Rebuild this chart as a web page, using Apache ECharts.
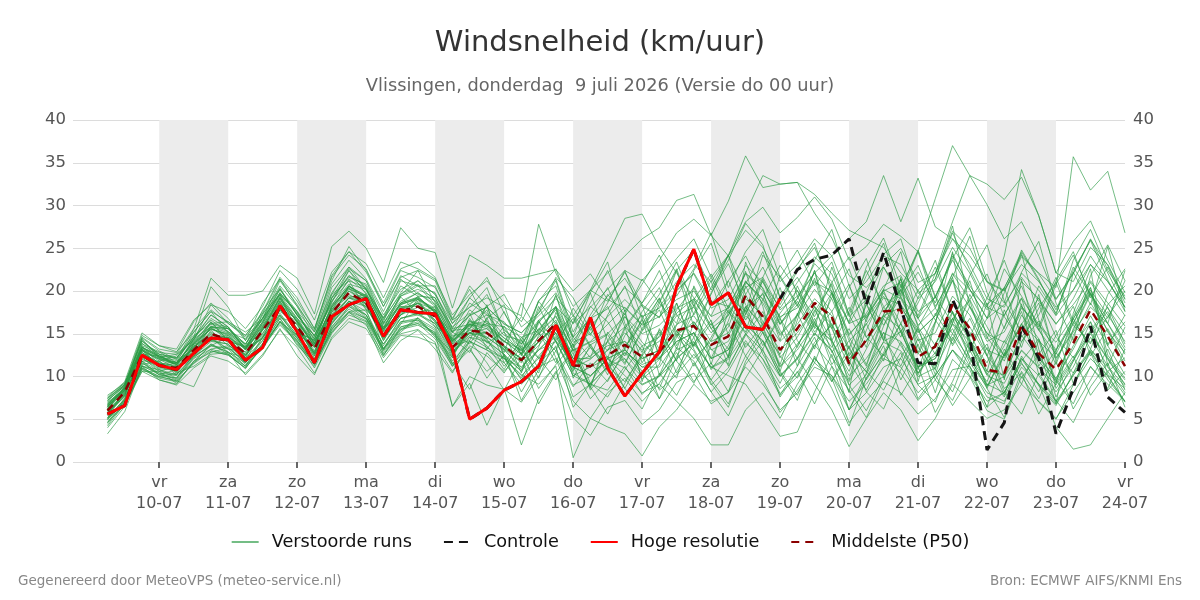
<!DOCTYPE html>
<html><head><meta charset="utf-8">
<script src="https://cdn.jsdelivr.net/npm/echarts@6/dist/echarts.min.js"></script>
<style>html,body{margin:0;padding:0;background:#fff}#c{width:1200px;height:600px}</style>
</head><body><div id="c"></div>
<script>
// hours since 9 July 2026 00:00 UTC, 6-hourly from 06:00
const hours = [];
for (let i = 0; i < 60; i++) hours.push(6 + 6 * i);
const dayTicks = [24,48,72,96,120,144,168,192,216,240,264,288,312,336,360];
const dayLabels = ['vr\n10-07','za\n11-07','zo\n12-07','ma\n13-07','di\n14-07','wo\n15-07','do\n16-07','vr\n17-07','za\n18-07','zo\n19-07','ma\n20-07','di\n21-07','wo\n22-07','do\n23-07','vr\n24-07'];
const shadedDays = [[24,48],[72,96],[120,144],[168,192],[216,240],[264,288],[312,336]];

const hoge = [5.6,6.6,12.5,11.3,10.8,12.7,14.5,14.3,11.9,13.4, 18.3,15.2,11.6,17.0,18.4,19.1,14.7,17.8,17.5,17.3, 13.3,5.0,6.3,8.4,9.4,11.2,16.0,11.3,16.9,11.0, 7.7,10.4,12.9,20.5,24.9,18.4,19.8,15.8,15.5,19.1];
const controle = [5.6,6.6,12.5,11.3,10.8,12.7,14.5,14.3,11.9,13.4, 18.3,15.2,11.6,17.0,18.4,19.1,14.7,17.8,17.5,17.3, 13.3,5.0,6.3,8.4,9.4,11.2,16.0,11.3,16.9,11.0, 7.7,10.4,12.9,20.5,24.9,18.4,19.8,15.8,15.5,19.1, 22.5,23.7,24.2,26.1,18.4,24.5,18.0,11.6,11.5,19.0, 14.5,1.4,4.6,15.9,12.2,3.3,8.6,15.9,7.6,5.8];
const p50 = [6.0,8.2,12.5,11.3,11.0,13.1,15.0,14.3,12.7,15.4, 18.2,15.8,13.2,17.4,19.8,18.6,14.7,17.6,18.2,17.0, 13.4,15.4,15.1,13.6,11.9,14.2,16.2,11.3,11.2,12.5, 13.7,12.3,12.9,15.4,15.9,13.7,14.7,19.5,17.0,13.1, 15.6,18.6,17.0,11.5,14.3,17.6,17.8,12.3,13.5,18.4, 15.6,10.8,10.4,16.0,12.7,10.8,13.9,17.8,14.7,11.2];

const run01 = [6.2,8.8,13.1,11.0,11.6,13.9,16.4,14.1,13.5,16.2, 19.6,15.1,14.3,18.8,21.2,17.9,15.6,19.3,17.4,18.2,12.6, 16.8,13.9,15.2,10.4,16.6,18.1,9.8,13.7,14.9,11.6,15.3,17.8,13.2,18.4,12.1,16.5,22.3,15.8,11.4, 17.2,21.5,14.3,9.6,16.8,20.1,15.2,10.8,16.4,21.3,13.8,8.9,12.6,18.5,10.2,13.1,16.7,20.4,12.5,9.8];
const run02 = [5.1,7.4,11.8,10.6,10.2,12.4,14.1,13.8,11.6,14.6, 16.9,16.2,12.1,16.3,18.5,19.4,13.2,16.1,19.1,15.8,14.5, 12.8,16.9,11.6,14.2,10.9,17.5,13.6,8.4,11.2,15.8,9.7,11.4,18.6,13.5,16.2,12.3,18.1,19.6,15.4, 12.1,16.4,19.8,13.2,10.5,15.9,19.4,14.6,11.2,16.8,18.9,12.4,7.8,14.1,16.5,8.6,11.8,15.2,17.6,13.4];
const run03 = [7.2,9.1,14.2,12.4,12.1,14.6,17.2,15.8,13.1,16.9, 20.4,17.1,14.8,19.6,22.8,20.2,16.9,21.4,19.6,18.9,15.2, 18.6,17.2,16.4,13.8,18.9,20.6,14.2,16.8,19.4,21.5,18.2,16.9,22.4,24.8,20.1,23.6,27.9,25.4,19.2, 22.6,25.1,20.4,16.2,19.8,24.3,26.1,19.7,21.4,26.8,22.5,18.4,20.3,24.6,21.2,17.8,22.4,25.9,21.3,17.6];
const run04 = [4.2,6.8,10.9,9.8,9.4,11.6,13.2,12.6,10.9,13.8, 16.2,14.1,11.4,15.2,17.6,16.8,12.8,15.4,16.9,14.8,11.2, 13.1,10.6,12.4,8.2,11.6,13.4,7.6,9.1,8.4,11.2,7.9,10.1,12.8,9.4,11.6,8.2,13.9,12.1,8.6, 10.4,13.7,11.2,6.1,9.8,12.6,10.4,7.2,9.6,13.1,10.8,6.4,8.2,11.5,9.1,6.8,10.2,12.9,9.6,7.1];
const run05 = [3.3,5.9,11.2,9.6,9.1,11.8,13.6,12.9,11.2,13.9, 17.1,14.6,11.8,16.1,18.8,16.9,13.1,15.8,16.4,15.1,6.5, 9.2,4.3,8.6,2.0,7.4,10.6,5.2,3.1,6.4,7.2,4.4,6.1,9.3,10.4,6.8,8.2,12.4,9.6,5.8, 8.4,11.6,9.8,4.6,7.2,9.4,8.1,5.6,7.4,10.8,11.2,7.6,6.8,12.4,8.9,6.6,10.4,13.2,10.6,7.8];
const run06 = [6.8,8.6,13.4,12.2,11.4,13.6,15.8,15.1,13.2,15.9, 19.2,16.8,13.9,18.1,20.6,19.2,15.4,18.6,19.2,17.8,14.2, 16.4,15.8,14.2,12.6,16.4,18.2,14.6,16.8,17.9,20.4,18.6,21.2,23.8,26.1,21.6,24.2,28.1,29.8,26.8, 28.6,31.0,28.4,23.6,25.2,27.8,26.4,24.6,30.8,37.0,33.5,32.5,30.7,33.3,28.8,22.1,25.8,28.2,23.6,19.8];
const run07 = [5.6,8.1,12.6,11.1,10.6,12.9,14.8,14.2,12.4,15.1, 17.8,15.6,12.8,17.1,19.2,18.2,14.4,17.2,18.1,16.6,12.9, 14.8,15.2,13.2,11.8,13.6,16.4,11.6,12.4,14.1,15.8,13.6,14.6,17.4,19.1,15.6,17.2,20.4,21.6,17.8, 19.4,22.1,19.6,14.8,17.4,20.6,21.8,17.6,19.2,24.1,20.6,17.8,20.4,24.2,22.1,20.4,35.7,31.8,34.0,26.8];
const run08 = [6.1,8.4,13.2,12.1,11.6,14.1,16.1,15.6,13.8,16.4, 19.8,17.2,14.4,19.1,21.8,20.1,16.2,19.4,20.6,18.4,15.1, 17.2,18.1,16.2,15.1,17.4,19.8,16.2,18.1,20.2,22.4,21.2,23.6,26.8,28.4,26.5,30.5,35.8,32.1,32.5, 32.7,29.1,26.2,21.8,20.4,22.8,19.2,16.8,19.4,23.6,20.2,16.8,18.4,21.6,18.8,16.2,18.4,21.2,18.6,15.9];
const run09 = [6.8,8.4,13.8,12.9,11.6,15.2,17.6,15.1,13.8,17.2, 20.6,18.2,14.6,20.4,22.8,21.2,16.4,21.2,20.6,19.8,15.6, 16.1,17.2,14.8,14.2,12.1,15.2,17.1,13.6,11.2,13.4,16.2,19.1,14.8,12.1,14.2,18.3,15.8,13.2,17.4, 20.1,15.8,14.2,18.1,14.6,12.4,16.2,20.1,16.6,13.8,18.2,15.1,12.4,16.1,19.2,14.6,12.2,15.4,18.1,13.8];
const run10 = [5.2,7.1,11.2,10.4,9.6,12.1,13.2,13.6,11.4,13.2, 16.4,13.8,11.2,15.6,17.6,17.8,12.6,15.2,16.8,14.6,12.2, 15.9,14.6,13.2,10.8,14.2,15.6,10.4,9.1,11.2,12.8,11.4,12.2,14.8,16.4,13.6,15.8,21.2,18.6,14.8, 17.1,20.2,17.6,11.8,14.2,17.1,15.6,11.2,12.4,16.8,15.2,10.6,10.2,14.8,12.1,9.8,13.2,17.1,13.6,10.2];
const run11 = [6.4,8.9,14.6,13.2,12.8,16.4,18.6,16.8,14.2,18.6, 21.4,18.8,15.6,21.6,24.2,22.6,18.2,22.4,21.6,20.4,16.6, 18.1,19.2,18.1,17.1,27.8,22.1,18.2,20.1,18.8,22.2,18.4,16.9,20.1,22.1,18.8,18.2,22.1,20.4,16.1, 18.4,21.2,19.1,14.2,16.1,19.2,18.4,14.2,15.1,19.4,17.2,13.1,12.2,16.1,14.2,12.1,15.2,18.1,16.2,13.1];
const run12 = [4.6,6.9,10.8,9.9,10.4,11.2,12.6,12.8,10.2,12.4, 15.6,12.4,10.2,14.6,16.8,16.2,11.6,14.2,15.4,13.2,10.4, 14.1,13.1,12.1,10.2,9.1,11.2,0.5,5.1,8.1,9.8,7.1,9.2,12.2,13.8,11.1,12.2,16.1,14.2,10.1, 12.2,15.1,13.1,8.1,10.2,14.1,15.2,11.1,12.1,16.2,14.1,10.1,9.2,13.1,11.1,8.2,11.1,15.2,12.1,9.1];
const run13 = [7.4,9.3,13.2,11.8,12.4,14.8,16.2,16.4,15.2,16.8, 19.6,17.6,13.8,19.2,21.6,20.8,16.6,19.8,22.4,18.6,14.8, 15.1,16.2,14.1,13.1,15.2,18.1,16.2,20.1,24.2,28.5,29.0,25.1,22.1,19.2,17.1,21.2,24.1,20.2,16.8, 19.1,23.2,21.1,16.2,17.1,20.2,19.1,15.2,17.1,21.2,18.1,14.1,15.2,19.1,16.1,13.1,16.2,20.1,17.2,14.1];
const run14 = [5.8,7.6,11.6,10.2,9.8,12.6,14.6,13.2,11.2,14.6, 17.2,14.4,12.4,16.2,18.4,17.2,13.2,16.4,16.8,15.6,11.8, 14.1,13.1,11.6,9.1,11.1,12.1,7.1,5.1,4.1,3.3,0.7,4.1,6.1,9.1,7.1,8.1,11.1,9.1,6.1, 8.1,11.1,10.1,6.1,8.1,11.1,12.1,9.1,10.1,13.1,11.1,8.1,7.1,11.1,9.1,7.1,10.1,13.1,11.1,8.1];
const run15 = [6.2,8.8,14.2,12.6,12.2,14.4,17.2,15.8,13.6,17.8, 20.2,17.2,14.8,18.6,22.4,19.6,16.8,20.6,19.4,19.2,15.2, 17.1,18.1,16.1,15.1,17.1,19.1,17.1,20.1,22.1,24.1,26.1,27.4,30.6,31.3,26.5,24.1,27.1,25.1,21.1, 23.1,26.1,24.1,19.1,21.1,24.1,23.1,19.1,21.1,25.1,22.1,18.1,17.1,21.1,19.1,16.1,19.1,23.1,20.1,17.1];
const run16 = [5.4,7.8,12.8,11.6,10.6,13.8,15.6,14.8,12.8,16.2, 19.2,15.4,12.8,17.8,20.6,19.4,15.4,18.4,19.2,17.6,13.8, 15.1,14.1,12.1,11.1,13.1,14.1,10.1,11.1,12.1,10.1,8.1,9.1,7.1,5.1,2.0,2.0,6.1,8.1,5.1, 9.1,12.1,10.1,7.1,9.1,12.1,11.1,8.1,10.1,13.1,10.1,7.1,8.1,12.1,10.1,7.1,9.1,12.1,10.1,7.1];
const run17 = [6.5,8.4,13.1,12.1,11.4,13.4,15.6,14.9,13.1,15.6, 19.1,16.4,13.6,18.1,20.6,19.1,15.6,18.4,19.1,17.6,14.1, 16.1,15.6,14.1,12.6,15.1,17.1,13.1,14.1,16.1,18.1,16.1,18.1,21.1,23.1,21.1,24.1,29.1,33.5,32.5, 32.7,31.3,29.1,27.1,26.1,25.1,22.1,20.1,22.1,26.1,23.1,19.1,18.1,22.1,20.1,17.1,20.1,24.1,21.1,18.1];
const run18 = [4.9,7.2,11.4,11.8,10.2,12.4,13.6,14.6,12.2,14.2, 17.8,16.4,12.6,16.4,18.8,18.2,14.6,16.8,17.4,16.2,12.8, 14.6,13.4,12.1,10.1,12.1,14.1,10.1,9.1,11.1,12.1,9.1,10.1,13.1,14.1,11.1,10.1,9.1,6.1,3.0, 3.5,8.2,12.6,6.1,10.4,15.2,9.6,13.8,8.1,14.6,11.2,6.4,12.8,9.1,14.2,7.6,11.8,16.4,10.2,8.6];
const run19 = [6.6,8.4,13.6,11.4,11.8,13.2,16.4,14.2,13.4,15.8, 18.8,15.2,14.2,17.2,20.4,17.8,15.6,17.4,18.8,16.4,14.2, 15.4,15.1,13.4,12.1,14.1,16.1,12.1,11.1,13.1,15.1,13.1,14.1,17.1,18.1,15.1,17.1,21.1,19.1,16.1, 19.1,22.1,24.1,26.1,28.1,33.5,28.1,33.2,27.5,26.1,24.1,21.1,20.1,23.1,21.1,18.1,20.1,23.1,21.1,18.1];
const run20 = [6.0,7.9,12.2,10.8,10.2,13.6,14.2,13.8,11.8,15.6, 17.6,16.2,12.4,16.8,19.2,18.8,14.2,17.8,17.2,17.4,12.6, 15.1,14.6,13.1,11.1,13.1,15.1,11.1,10.1,12.1,13.1,11.1,12.1,14.1,15.1,12.1,13.1,16.1,14.1,10.1, 12.1,9.1,6.1,1.8,5.1,8.1,6.1,2.5,5.1,9.1,7.1,5.1,6.1,9.1,7.1,5.1,8.1,11.1,9.1,7.1];
const run21 = [7.1,9.0,13.4,12.4,11.4,14.4,15.8,15.6,13.2,16.4, 19.4,16.6,13.6,18.2,21.4,19.8,15.8,18.6,19.8,18.2,14.6, 16.1,15.1,13.6,12.1,14.6,16.6,12.1,12.1,13.6,14.1,12.1,13.1,16.1,17.1,14.1,15.1,19.1,17.1,14.1, 16.1,19.1,17.1,12.1,14.1,18.1,20.1,17.1,22.1,28.1,33.5,30.1,26.1,28.1,24.1,19.1,22.1,26.1,22.1,18.1];
const run22 = [5.6,8.2,12.0,11.2,11.2,12.4,15.4,13.6,12.6,14.6, 18.4,15.6,12.8,17.6,19.6,18.4,14.2,17.2,18.6,16.6,13.2, 15.1,15.6,13.6,12.1,14.1,16.1,12.1,11.1,13.1,14.1,12.1,13.1,15.1,16.1,13.1,14.1,18.1,16.1,13.1, 15.1,18.1,16.1,12.1,14.1,17.1,18.1,15.1,17.1,22.1,20.1,18.1,24.1,34.2,28.8,22.1,21.1,25.1,23.1,19.1];
const run23 = [4.4,7.0,10.6,10.6,9.2,11.8,12.8,13.4,11.6,13.8, 16.8,14.2,11.6,15.4,18.2,17.2,13.2,15.6,16.2,15.2,11.4, 14.6,14.1,12.6,10.6,13.1,15.1,11.1,10.1,12.1,13.1,11.1,11.1,14.1,15.1,12.1,13.1,17.1,15.1,11.1, 13.1,16.1,14.1,10.1,12.1,15.1,14.1,11.1,12.1,16.1,13.1,9.1,8.1,12.1,9.1,4.1,1.5,2.0,5.1,8.1];
const run24 = [6.9,8.6,13.9,12.2,11.9,14.6,16.6,15.2,14.4,16.6, 19.8,17.4,14.2,19.6,21.2,20.4,15.6,19.6,20.8,18.8,15.8, 17.4,13.2,15.9,12.6,18.2,14.1,10.6,16.2,12.1,17.8,9.4,15.6,11.8,20.6,16.4,12.2,23.4,18.2,10.6, 16.6,22.4,13.8,8.2,19.6,14.2,21.6,9.4,16.2,24.6,12.8,18.6,9.6,21.4,13.2,6.8,17.4,22.6,11.2,15.8];
const run25 = [5.5,8.0,12.4,10.9,10.8,13.4,15.2,14.1,12.2,15.8, 18.6,15.2,13.4,17.8,19.4,19.2,14.8,18.2,17.6,17.8,13.6, 14.2,18.4,12.2,9.8,13.4,19.6,12.8,8.6,15.2,12.4,16.8,10.2,14.6,18.8,11.4,17.6,15.2,21.4,16.8, 11.2,17.6,20.8,12.4,16.2,11.8,18.4,15.6,10.2,16.4,21.2,14.6,11.8,17.2,14.4,9.2,15.6,19.8,16.2,12.6];
const run26 = [7.6,9.4,15.1,13.6,13.2,16.6,18.4,17.6,15.6,18.2, 22.4,20.2,16.6,22.2,24.6,23.2,19.2,23.4,22.6,21.4,17.2, 19.6,21.2,18.6,16.4,20.4,22.6,17.2,14.8,19.6,17.2,21.4,18.6,16.2,22.4,25.6,19.4,17.6,24.2,21.6, 18.2,23.6,27.2,20.6,16.4,22.8,19.6,24.6,18.2,21.6,26.4,19.8,15.6,22.2,25.8,18.6,14.2,21.8,25.4,21.2];
const run27 = [4.7,6.6,10.6,9.6,9.0,11.0,12.4,11.8,10.4,12.6, 15.4,13.4,10.4,14.4,16.4,15.6,12.2,14.8,14.6,13.8,10.6, 13.6,12.4,10.6,12.8,8.6,11.4,13.8,9.2,7.6,10.8,13.6,8.4,10.2,12.6,9.6,6.8,11.4,14.2,10.6, 7.8,12.2,9.4,13.6,8.2,6.2,10.8,14.4,9.6,7.2,11.6,13.8,8.6,10.4,5.6,9.2,12.4,7.8,10.6,12.2];
const run28 = [6.4,8.6,12.6,12.4,11.6,13.2,15.8,15.6,13.8,16.8, 19.6,16.8,14.8,18.4,20.8,20.2,16.2,18.8,19.8,18.4,14.4, 17.8,16.2,15.8,14.6,15.4,17.8,13.6,18.2,16.4,13.2,17.6,20.4,15.2,13.6,18.4,21.2,16.6,19.8,14.2, 20.6,16.2,13.4,17.6,22.4,18.2,14.6,19.2,23.6,17.4,13.2,16.8,20.4,14.6,17.2,21.6,16.4,13.8,19.6,22.6];
const run29 = [5.2,7.4,11.8,10.2,10.8,12.8,14.6,12.8,11.6,14.2, 17.4,14.8,12.0,16.6,18.8,17.2,13.8,16.8,17.2,16.2,12.4, 15.6,14.4,11.2,13.8,16.6,12.2,8.8,11.6,9.4,13.2,10.6,7.4,12.4,15.2,10.8,13.6,17.8,12.6,9.2, 13.6,16.8,11.4,14.2,9.6,12.8,16.2,10.4,13.8,17.6,12.2,8.6,13.2,9.8,12.6,15.4,9.2,12.8,8.4,10.6];
const run30 = [7.5,9.0,14.5,13.0,12.0,15.5,21.5,19.5,19.5,20.0, 23.0,21.5,17.3,25.2,27.0,25.0,21.0,27.4,25.0,24.5,18.0, 24.2,23.0,21.5,21.5,22.0,22.5,20.0,22.0,19.0,18.0,16.0,17.0,19.0,20.0,17.0,18.0,21.0,19.0,15.0, 17.2,22.4,15.6,11.2,18.6,14.2,20.8,12.6,16.4,21.6,14.2,10.6,17.8,13.4,19.6,11.8,16.2,20.4,13.6,17.2];
const run31 = [7.4,9.1,14.1,12.6,12.2,14.6,20.5,18.1,14.2,16.8, 20.2,17.6,15.2,19.8,22.6,21.2,17.2,20.2,21.2,19.6,16.2, 19.2,17.4,15.6,13.2,18.8,21.4,15.2,18.6,22.4,17.6,20.8,24.2,19.4,22.6,26.8,20.4,24.6,27.2,21.6, 24.8,20.6,23.4,17.2,21.8,25.6,19.4,22.2,18.6,24.4,20.2,16.8,22.6,19.4,15.8,21.2,24.6,19.2,22.8,18.6];
const run32 = [4.0,6.5,11.0,10.0,9.5,8.8,13.0,12.5,11.0,13.5, 16.5,14.5,11.5,15.5,17.5,16.5,13.0,15.5,16.0,15.0,11.5, 13.4,9.8,12.6,7.2,10.8,13.6,6.4,9.2,12.4,8.6,6.2,10.4,7.8,11.6,8.2,5.4,9.8,13.2,7.6, 10.6,6.8,11.2,8.4,5.2,9.6,12.8,7.4,10.2,6.6,9.8,13.4,8.2,5.6,10.4,7.2,4.6,8.8,11.6,6.4];
const run33 = [6.6,9.1,13.6,12.8,12.6,15.6,17.8,16.2,14.6,16.8, 21.2,18.4,15.2,20.8,23.6,21.4,17.6,21.8,20.6,20.6,16.2, 18.1,20.4,15.2,12.6,17.8,21.2,14.6,19.8,23.4,16.2,12.8,18.6,22.4,15.8,19.6,24.2,17.2,21.6,25.8, 19.4,15.6,22.8,17.2,13.4,20.2,24.6,16.8,21.4,27.6,18.2,14.4,19.8,24.4,16.6,12.8,22.2,18.4,25.2,17.6];
const run34 = [5.1,7.2,11.2,10.8,9.8,12.2,13.8,12.6,11.2,13.4, 16.4,14.2,11.4,15.2,17.2,16.4,12.4,15.8,16.2,14.4,11.2, 14.2,11.6,8.4,12.2,6.8,10.4,13.2,8.8,5.6,9.2,12.6,7.4,10.8,14.6,9.2,6.4,11.8,15.2,10.4, 7.2,12.4,8.6,4.2,9.8,13.6,7.8,11.2,5.8,9.4,14.2,8.6,5.2,10.6,7.4,11.8,6.2,9.6,13.2,8.4];
const run35 = [6.2,8.4,12.8,11.6,11.2,13.8,15.6,14.6,13.2,15.6, 18.8,16.4,13.8,17.8,20.2,19.4,15.2,17.8,18.6,17.8,14.2, 16.0,16.0,14.0,17.0,15.0,13.0,18.0,15.0,13.0,17.0,14.0,12.0,16.0,19.0,22.0,18.0,15.0,19.0,23.0, 20.0,17.0,21.0,24.0,19.0,16.0,20.0,23.0,18.0,15.0,19.0,22.0,17.0,14.0,18.0,21.0,16.0,14.0,17.0,20.0];
const run36 = [5.6,7.8,12.4,11.4,10.6,13.2,14.4,14.8,12.6,15.4, 18.2,15.6,12.6,17.2,19.2,18.6,14.6,18.2,18.2,16.4,13.4, 15.6,17.8,12.4,10.6,14.8,18.2,11.6,13.8,10.2,15.6,18.4,12.2,9.8,16.4,13.2,11.4,19.6,15.2,12.6, 17.4,13.2,19.8,14.6,11.2,16.8,20.2,13.4,10.8,17.6,14.2,11.6,15.8,19.2,12.4,9.6,14.8,18.6,15.4,11.2];
const run37 = [6.7,8.6,13.2,11.2,11.6,12.8,15.8,14.2,12.4,14.8, 17.8,16.8,13.4,16.8,20.6,18.4,15.6,17.2,19.4,17.4,13.8, 16.2,14.4,17.6,13.2,10.4,15.8,12.6,8.8,14.2,17.4,11.6,14.8,18.6,13.2,9.6,12.4,20.6,16.4,12.2, 14.6,18.2,12.8,15.6,11.4,17.2,21.4,15.8,12.6,18.8,14.4,10.2,13.6,17.6,11.2,14.8,18.2,12.4,15.6,11.8];
const run38 = [6.1,8.8,13.4,12.6,11.2,14.4,16.8,15.6,13.4,16.4, 20.2,17.2,14.4,18.8,21.8,20.6,16.2,19.4,20.2,19.2,15.4, 15.6,18.2,13.4,11.6,16.2,19.4,14.6,12.2,17.2,20.6,15.4,18.8,22.6,17.2,20.4,24.2,19.6,22.8,18.4, 22.4,25.6,19.8,16.4,22.8,26.2,20.4,24.6,19.2,23.8,27.4,21.2,18.6,24.8,21.4,17.2,23.6,27.2,22.4,19.4];
const run39 = [6.0,8.0,12.5,11.5,11.0,13.0,15.0,14.0,12.5,15.0, 18.0,16.0,13.0,17.5,20.0,18.5,14.5,18.0,18.5,17.0,13.5, 15.0,15.0,13.5,12.0,14.0,16.0,11.0,12.0,14.0,12.0,10.0,12.0,15.0,13.0,9.0,11.0,15.0,12.0,8.0, 10.0,14.0,16.0,9.0,6.0,10.0,14.0,9.0,7.0,12.0,10.0,6.0,5.0,10.0,7.0,5.0,9.0,13.0,10.0,7.0];
const run40 = [7.0,8.5,13.0,12.0,11.5,14.0,15.5,15.0,13.5,16.0, 19.0,16.5,14.0,18.0,20.5,19.5,16.0,18.5,19.0,18.0,14.0, 16.5,16.0,14.5,13.0,15.5,18.0,14.0,15.0,17.0,19.0,17.0,18.0,20.0,22.0,18.0,19.0,23.0,21.0,18.0, 21.0,24.0,22.0,17.0,19.0,23.0,25.0,21.0,22.0,27.0,25.0,21.0,20.0,24.0,22.0,19.0,22.0,26.0,23.0,19.0];
const run41 = [5.0,7.0,11.0,10.0,9.5,11.5,13.0,12.5,11.0,13.5, 16.0,14.0,11.0,15.0,17.5,16.0,12.5,15.0,15.5,14.0,6.5, 10.0,9.0,8.5,7.0,10.0,13.0,9.0,10.0,12.0,11.0,9.0,10.0,12.0,14.0,11.0,12.0,15.0,13.0,10.0, 12.0,15.0,13.0,9.0,11.0,14.0,13.0,10.0,11.0,15.0,12.0,9.0,10.0,13.0,11.0,9.0,12.0,15.0,12.0,9.0];
const run42 = [6.5,8.5,13.0,12.0,11.0,13.5,15.0,14.5,12.5,15.5, 18.5,16.5,13.5,17.5,20.0,19.0,15.0,18.0,19.0,17.5,14.0, 16.0,16.5,14.5,13.0,15.0,17.0,13.0,14.0,15.0,17.0,15.0,16.0,18.0,19.0,16.0,18.0,22.0,20.0,17.0, 18.0,21.0,20.0,15.0,17.0,20.0,21.0,16.0,18.0,22.0,19.0,15.0,14.0,18.0,16.0,14.0,17.0,21.0,18.0,15.0];
const run43 = [5.7,8.3,11.8,11.8,10.4,13.8,14.2,14.6,13.4,14.4, 18.8,15.2,14.2,16.6,19.2,19.6,15.8,17.2,18.6,17.2,15.2, 13.8,16.8,18.4,12.4,15.6,14.2,16.8,13.4,10.6,14.8,17.2,12.6,15.4,11.2,14.6,17.8,13.4,16.2,20.4, 14.2,11.6,16.8,13.2,18.4,14.6,11.2,15.8,19.4,13.6,16.8,12.4,9.8,15.2,18.6,12.2,15.4,19.6,13.8,16.4];
const run44 = [7.2,8.9,14.4,12.2,12.6,14.2,18.4,16.2,14.8,17.6, 21.6,19.2,15.6,21.2,25.2,22.4,18.6,22.6,23.4,21.6,16.8, 20.2,16.4,12.8,18.6,15.2,11.6,16.4,19.8,14.2,11.4,15.6,19.2,13.6,17.4,21.2,14.8,18.2,13.6,16.8, 13.4,17.8,14.2,10.6,15.4,19.8,16.2,12.8,17.4,14.2,19.6,15.8,12.4,18.2,15.6,11.4,16.8,13.2,18.4,20.6];
const run45 = [4.6,7.3,11.3,10.2,9.8,12.3,13.6,13.3,11.7,13.6, 16.4,14.8,11.7,15.8,17.9,16.7,13.3,16.2,16.6,15.4,11.6, 8.5,12.8,10.4,13.6,9.8,14.6,11.2,7.4,9.6,12.8,10.2,8.6,13.4,11.8,8.2,10.6,14.2,11.4,7.8, 11.2,14.6,9.4,12.8,10.6,8.4,12.2,15.6,10.8,8.2,13.4,10.4,7.6,11.8,14.4,9.6,6.8,11.2,8.6,13.2];
const run46 = [7.8,9.2,14.8,13.6,12.9,15.2,17.6,16.4,14.8,17.4, 21.4,18.2,15.4,21.8,24.6,22.2,18.2,21.6,22.4,21.2,16.6, 20.6,18.2,19.6,15.8,17.4,21.6,19.2,15.4,18.6,22.4,16.8,19.6,23.4,18.2,21.6,17.4,20.8,24.6,19.2, 21.6,18.2,15.6,20.4,23.8,17.6,20.2,24.8,19.4,16.2,21.8,25.4,18.8,15.2,20.6,17.4,22.8,19.6,16.8,21.2];
const run47 = [5.0,7.4,11.6,10.4,10.1,11.6,13.8,12.8,12.2,13.6, 16.8,13.6,11.8,15.8,18.2,16.8,13.8,16.4,16.6,14.8,12.8, 15.2,13.6,10.8,14.6,12.2,9.6,13.4,15.8,11.6,8.6,12.4,15.2,10.4,13.8,16.6,11.2,14.8,17.6,12.4, 9.8,13.6,16.2,11.8,8.4,12.6,15.4,10.2,13.8,16.8,12.2,9.4,14.2,11.6,8.2,12.8,10.4,14.6,11.2,8.8];
const run48 = [6.4,8.7,13.4,12.4,11.4,14.2,16.2,15.8,13.2,17.4, 19.6,17.6,13.8,19.2,22.4,20.2,16.8,19.6,21.2,19.6,15.6, 19.2,21.6,17.4,14.2,18.8,16.2,13.4,17.2,20.4,15.8,18.6,22.4,17.2,14.6,19.8,23.2,18.4,15.6,21.8, 18.4,14.8,19.2,22.6,16.8,19.4,15.2,18.6,22.8,17.4,14.6,19.2,23.6,18.2,15.4,20.8,24.2,19.6,16.2,22.4];
const run49 = [5.9,7.7,12.2,10.6,11.2,12.6,14.4,13.2,12.9,14.6, 17.2,14.8,12.6,16.6,18.8,17.6,13.6,16.8,17.4,15.8,12.2, 16.6,14.2,12.6,9.6,12.4,14.8,10.8,13.4,11.2,9.4,12.6,15.4,11.8,9.2,13.6,16.2,12.4,15.6,11.2, 13.8,16.4,12.2,9.4,13.2,16.8,13.6,10.4,12.8,15.6,11.6,8.8,12.4,16.2,11.8,9.4,13.6,16.4,12.2,9.6];
const run50 = [6.7,8.2,13.3,12.3,11.6,13.9,15.9,15.3,13.4,15.4, 19.3,16.3,13.6,18.3,20.3,19.3,15.3,18.6,19.3,17.6,14.3, 17.2,19.6,15.4,13.8,16.4,14.2,11.6,15.8,18.2,13.4,16.6,13.2,17.8,20.4,15.6,13.2,17.4,21.2,16.2, 18.8,15.2,17.6,20.8,14.6,17.2,21.4,16.8,13.6,18.4,15.8,12.4,17.2,20.6,15.4,12.6,16.8,19.8,15.2,12.8];

const runs = [run01,run02,run03,run04,run05,run06,run07,run08,run09,run10,run11,run12,run13,run14,run15,run16,run17,run18,run19,run20,run21,run22,run23,run24,run25,run26,run27,run28,run29,run30,run31,run32,run33,run34,run35,run36,run37,run38,run39,run40,run41,run42,run43,run44,run45,run46,run47,run48,run49,run50];

const pair = arr => arr.map((v, i) => [hours[i], v]);
const FONT = 'DejaVu Sans';

const series = [];
series.push({
  name: '_bands', type: 'line', data: pair(p50), z: 0, silent: true, symbol: 'none',
  lineStyle: { width: 0, opacity: 0 },
  markArea: { silent: true, itemStyle: { color: '#ececec' },
    data: shadedDays.map(d => [{ xAxis: d[0] }, { xAxis: d[1] }]) }
});
runs.forEach(r => series.push({
  name: 'Verstoorde runs', type: 'line', data: pair(r), z: 2,
  symbol: 'none', silent: true,
  lineStyle: { color: '#2a9a44', width: 1, opacity: 0.65 },
  itemStyle: { color: '#2a9a44' }
}));
series.push({
  name: 'Controle', type: 'line', data: pair(controle), z: 3, symbol: 'none',
  lineStyle: { color: '#151515', width: 3, type: [9, 6] }, itemStyle: { color: '#151515' }
});
series.push({
  name: 'Middelste (P50)', type: 'line', data: pair(p50), z: 4, symbol: 'none',
  lineStyle: { color: '#8b0000', width: 2.5, type: [8, 6] }, itemStyle: { color: '#8b0000' }
});
series.push({
  name: 'Hoge resolutie', type: 'line', data: pair(hoge), z: 5, symbol: 'none',
  lineStyle: { color: '#ff0000', width: 3 }, itemStyle: { color: '#ff0000' }
});

const chart = echarts.init(document.getElementById('c'), null, { renderer: 'canvas' });
chart.setOption({
  animation: false,
  backgroundColor: '#fff',
  textStyle: { fontFamily: FONT },
  title: [
    { text: 'Windsnelheid (km/uur)', left: 'center', top: 24,
      textStyle: { fontFamily: FONT, fontSize: 29, fontWeight: 'normal', color: '#333' } },
    { text: 'Vlissingen, donderdag  9 juli 2026 (Versie do 00 uur)', left: 'center', top: 72,
      textStyle: { fontFamily: FONT, fontSize: 17.8, fontWeight: 'normal', color: '#666' } },
    { text: 'Gegenereerd door MeteoVPS (meteo-service.nl)', left: 13, top: 569,
      textStyle: { fontFamily: FONT, fontSize: 13.5, fontWeight: 'normal', color: '#888' } },
    { text: 'Bron: ECMWF AIFS/KNMI Ens', right: 13, top: 569,
      textStyle: { fontFamily: FONT, fontSize: 13.5, fontWeight: 'normal', color: '#888' } }
  ],
  legend: {
    data: ['Verstoorde runs', 'Controle', 'Hoge resolutie', 'Middelste (P50)'],
    left: 'center', top: 528, itemWidth: 27, itemHeight: 14, itemGap: 31,
    itemStyle: { opacity: 0 },
    textStyle: { fontFamily: FONT, fontSize: 17.7, color: '#111', padding: [0, 0, 0, 8] }
  },
  grid: { left: 73, right: 75, top: 120, bottom: 138, containLabel: false },
  xAxis: {
    type: 'value', min: -6, max: 360,
    axisLine: { show: false },
    splitLine: { show: false },
    axisTick: { show: true, customValues: dayTicks, length: 6, lineStyle: { color: '#666', width: 2 } },
    axisLabel: {
      customValues: dayTicks, fontFamily: FONT, fontSize: 16, color: '#555', lineHeight: 21, margin: 10,
      formatter: v => { const k = dayTicks.indexOf(v); return k >= 0 ? dayLabels[k] : ''; }
    }
  },
  yAxis: [
    { type: 'value', min: 0, max: 40, interval: 5, position: 'left',
      axisLine: { show: false }, axisTick: { show: false },
      axisLabel: { fontFamily: FONT, fontSize: 16.5, color: '#555', margin: 7 },
      splitLine: { lineStyle: { color: '#dcdcdc', width: 1 } } },
    { type: 'value', min: 0, max: 40, interval: 5, position: 'right',
      axisLine: { show: false }, axisTick: { show: false },
      axisLabel: { fontFamily: FONT, fontSize: 16.5, color: '#555', margin: 8 },
      splitLine: { show: false } }
  ],
  series: series
});
</script>
</body></html>
